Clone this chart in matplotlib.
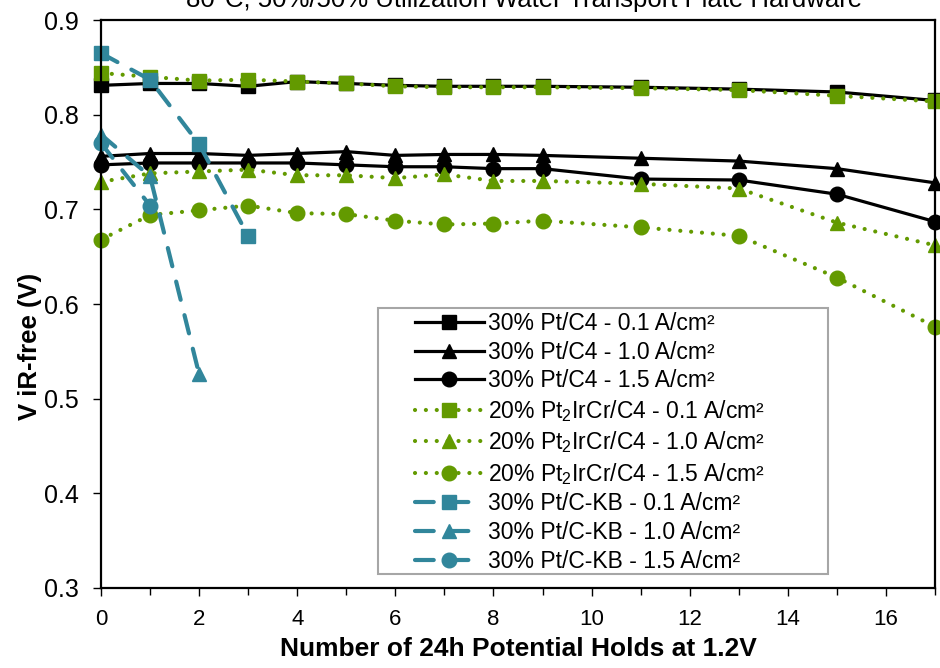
import matplotlib

matplotlib.use("Agg")
import matplotlib.pyplot as plt  # noqa: E402
from matplotlib.patches import Rectangle  # noqa: E402

plt.rcParams["font.family"] = ["Liberation Sans", "DejaVu Sans"]
plt.rcParams["mathtext.default"] = "regular"

# holds for the C4 catalysts and for the KB reference
holds = [0, 1, 2, 3, 4, 5, 6, 7, 8, 9, 11, 13, 15, 17]
kb_holds = [0, 1, 2, 3]

ptc4_01 = [0.831, 0.833, 0.833, 0.830, 0.835, 0.833, 0.831, 0.830, 0.830, 0.830, 0.829, 0.827, 0.824, 0.815]
ptc4_10 = [0.756, 0.759, 0.759, 0.757, 0.759, 0.761, 0.757, 0.758, 0.758, 0.757, 0.754, 0.751, 0.743, 0.728]
ptc4_15 = [0.747, 0.749, 0.749, 0.749, 0.749, 0.747, 0.745, 0.745, 0.743, 0.743, 0.732, 0.731, 0.716, 0.687]

ptir_01 = [0.844, 0.840, 0.836, 0.837, 0.835, 0.833, 0.830, 0.829, 0.829, 0.829, 0.828, 0.826, 0.820, 0.814]
ptir_10 = [0.729, 0.738, 0.740, 0.742, 0.736, 0.736, 0.733, 0.737, 0.730, 0.730, 0.727, 0.722, 0.686, 0.662]
ptir_15 = [0.668, 0.694, 0.699, 0.704, 0.696, 0.695, 0.688, 0.684, 0.685, 0.688, 0.681, 0.672, 0.628, 0.576]

kb_01 = [0.865, 0.837, 0.769, 0.672]
kb_10 = [0.779, 0.735, 0.526]
kb_15 = [0.770, 0.704]

BLACK = "black"
GREEN = "#639a00"
BLUE = "#31869b"

fig = plt.figure(figsize=(9.4, 6.68), dpi=100)
ax = fig.add_axes([0.1074, 0.1198, 0.8873, 0.8502])

solid = dict(color=BLACK, lw=2.3, ls="-")
dotted = dict(color=GREEN, lw=3.0, dashes=(0.01, 2.6), dash_capstyle="round")
dashed = dict(color=BLUE, lw=3.0, dashes=(4.5, 3.8), dash_capstyle="round")
sq = dict(marker="s", markersize=10.5)
tri = dict(marker="^", markersize=10.5)
circ = dict(marker="o", markersize=10.5)

ax.plot(holds, ptc4_01, label="30% Pt/C4 - 0.1 A/cm²", **solid, **sq)
ax.plot(holds, ptc4_10, label="30% Pt/C4 - 1.0 A/cm²", **solid, **tri)
ax.plot(holds, ptc4_15, label="30% Pt/C4 - 1.5 A/cm²", **solid, **circ)
ax.plot(holds, ptir_01, label="20% Pt$_2$IrCr/C4 - 0.1 A/cm²", **dotted, **sq)
ax.plot(holds, ptir_10, label="20% Pt$_2$IrCr/C4 - 1.0 A/cm²", **dotted, **tri)
ax.plot(holds, ptir_15, label="20% Pt$_2$IrCr/C4 - 1.5 A/cm²", **dotted, **circ)
ax.plot(kb_holds[:len(kb_01)], kb_01, label="30% Pt/C-KB - 0.1 A/cm²", **dashed, **sq)
ax.plot(kb_holds[:len(kb_10)], kb_10, label="30% Pt/C-KB - 1.0 A/cm²", **dashed, **tri)
ax.plot(kb_holds[:len(kb_15)], kb_15, label="30% Pt/C-KB - 1.5 A/cm²", **dashed, **circ)

ax.set_xlim(0, 17)
ax.set_ylim(0.3, 0.9)
ax.set_xticks(range(0, 17, 2))
ax.set_xticks(range(0, 18), minor=True)
ax.set_yticks([0.3, 0.4, 0.5, 0.6, 0.7, 0.8, 0.9])
ax.tick_params(which="both", direction="out", width=1, color=BLACK)
ax.tick_params(which="major", length=6)
ax.tick_params(which="minor", length=5)
ax.tick_params(axis="x", labelsize=16, pad=9)
ax.tick_params(axis="y", labelsize=18, pad=10)
for sp in ax.spines.values():
    sp.set_linewidth(1.6)
for line in ax.lines:
    line.set_clip_on(False)

ax.set_xlabel("Number of 24h Potential Holds at 1.2V", fontsize=19,
              fontweight="bold", labelpad=5)
ax.set_ylabel("V iR-free (V)", fontsize=18.5, fontweight="bold")
ax.yaxis.set_label_coords(-0.071, 0.426)

# legend frame drawn separately: the entries sit right of its left edge
ax.add_patch(Rectangle((0.332, 0.0246), 0.54, 0.468, transform=ax.transAxes,
                       facecolor="white", edgecolor="#a6a6a6", lw=1.5,
                       zorder=4))
leg = ax.legend(loc="upper left", bbox_to_anchor=(0.368, 0.498),
                borderaxespad=0, fontsize=16.5, handlelength=3.0,
                handletextpad=0.2, labelspacing=0.245, frameon=False,
                borderpad=0.3)
leg.set_zorder(5)

# title sits above the canvas, only its lower edge shows
fig.text(0.558, 0.990, "80°C, 50%/50% Utilization Water Transport Plate Hardware",
         ha="center", va="baseline", fontsize=18.5)

fig.savefig("out.png", dpi=100)
plt.close(fig)
